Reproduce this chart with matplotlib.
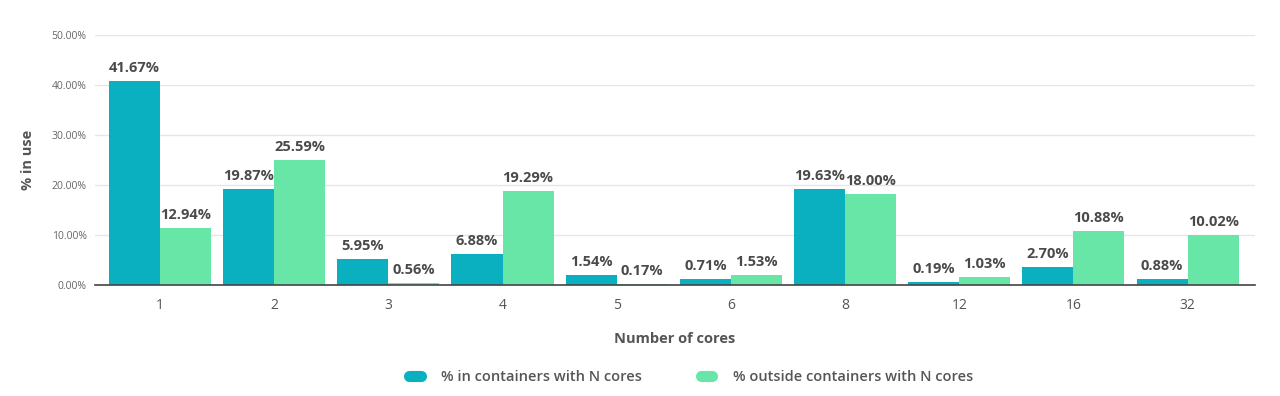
import numpy as np
import matplotlib.pyplot as plt
from matplotlib.lines import Line2D

plt.rcParams['font.family'] = ['Open Sans', 'DejaVu Sans']

# Data
cores = ['1', '2', '3', '4', '5', '6', '8', '12', '16', '32']
inside = [40.9, 19.3, 5.3, 6.3, 2.0, 1.3, 19.3, 0.6, 3.7, 1.3]
outside = [11.5, 25.0, 0.5, 18.8, 0.3, 2.0, 18.2, 1.7, 10.8, 10.1]
inside_labels = ['41.67%', '19.87%', '5.95%', '6.88%', '1.54%', '0.71%',
                 '19.63%', '0.19%', '2.70%', '0.88%']
outside_labels = ['12.94%', '25.59%', '0.56%', '19.29%', '0.17%', '1.53%',
                  '18.00%', '1.03%', '10.88%', '10.02%']

teal = '#0aafc0'
green = '#67e6a8'
text_col = '#555555'
label_col = '#4a4a4a'

fig = plt.figure(figsize=(12.8, 3.96), dpi=100)
ax = fig.add_axes([0.0742, 0.2803, 0.906, 0.6313])

x = np.arange(len(cores))
w = 0.447
b1 = ax.bar(x - w / 2, inside, w, color=teal, zorder=3)
b2 = ax.bar(x + w / 2, outside, w, color=green, zorder=3)

for bars, labs in ((b1, inside_labels), (b2, outside_labels)):
    for r, lab in zip(bars, labs):
        ax.annotate(lab, (r.get_x() + r.get_width() / 2, r.get_height()),
                    xytext=(0, 4), textcoords='offset points',
                    ha='center', va='bottom', fontsize=10.5, fontweight='bold',
                    color=label_col, zorder=4)

ax.set_xlim(-0.569, 9.587)
ax.set_ylim(0, 50)
ax.set_yticks(np.arange(0, 51, 10))
ax.set_yticklabels(['%.2f%%' % v for v in np.arange(0, 51, 10)])
ax.set_xticks(x)
ax.set_xticklabels(cores)
ax.tick_params(axis='y', length=0, labelsize=7.5, labelcolor='#666666', pad=6)
ax.tick_params(axis='x', length=0, labelsize=10, labelcolor=text_col, pad=9)
ax.grid(axis='y', color='#e6e6e6', linewidth=1, zorder=0)
for s in ('top', 'right', 'left'):
    ax.spines[s].set_visible(False)
ax.spines['bottom'].set_color('#444444')
ax.spines['bottom'].set_linewidth(1.2)
ax.spines['bottom'].set_zorder(5)

ax.set_xlabel('Number of cores', fontsize=10.5, fontweight='bold', color=text_col, labelpad=14)
ax.set_ylabel('% in use', fontsize=10.5, fontweight='bold', color=text_col, labelpad=12)

handles = [Line2D([], [], color=teal, lw=8, solid_capstyle='round'),
           Line2D([], [], color=green, lw=8, solid_capstyle='round')]
fig.legend(handles, ['% in containers with N cores', '% outside containers with N cores'],
           loc='center', bbox_to_anchor=(0.54, 0.048), ncol=2, frameon=False,
           handlelength=0.8, columnspacing=4.0, handletextpad=1.4,
           prop={'size': 10.5, 'weight': 'semibold'}, labelcolor=text_col)

fig.savefig('out.png', dpi=100, facecolor='white')
